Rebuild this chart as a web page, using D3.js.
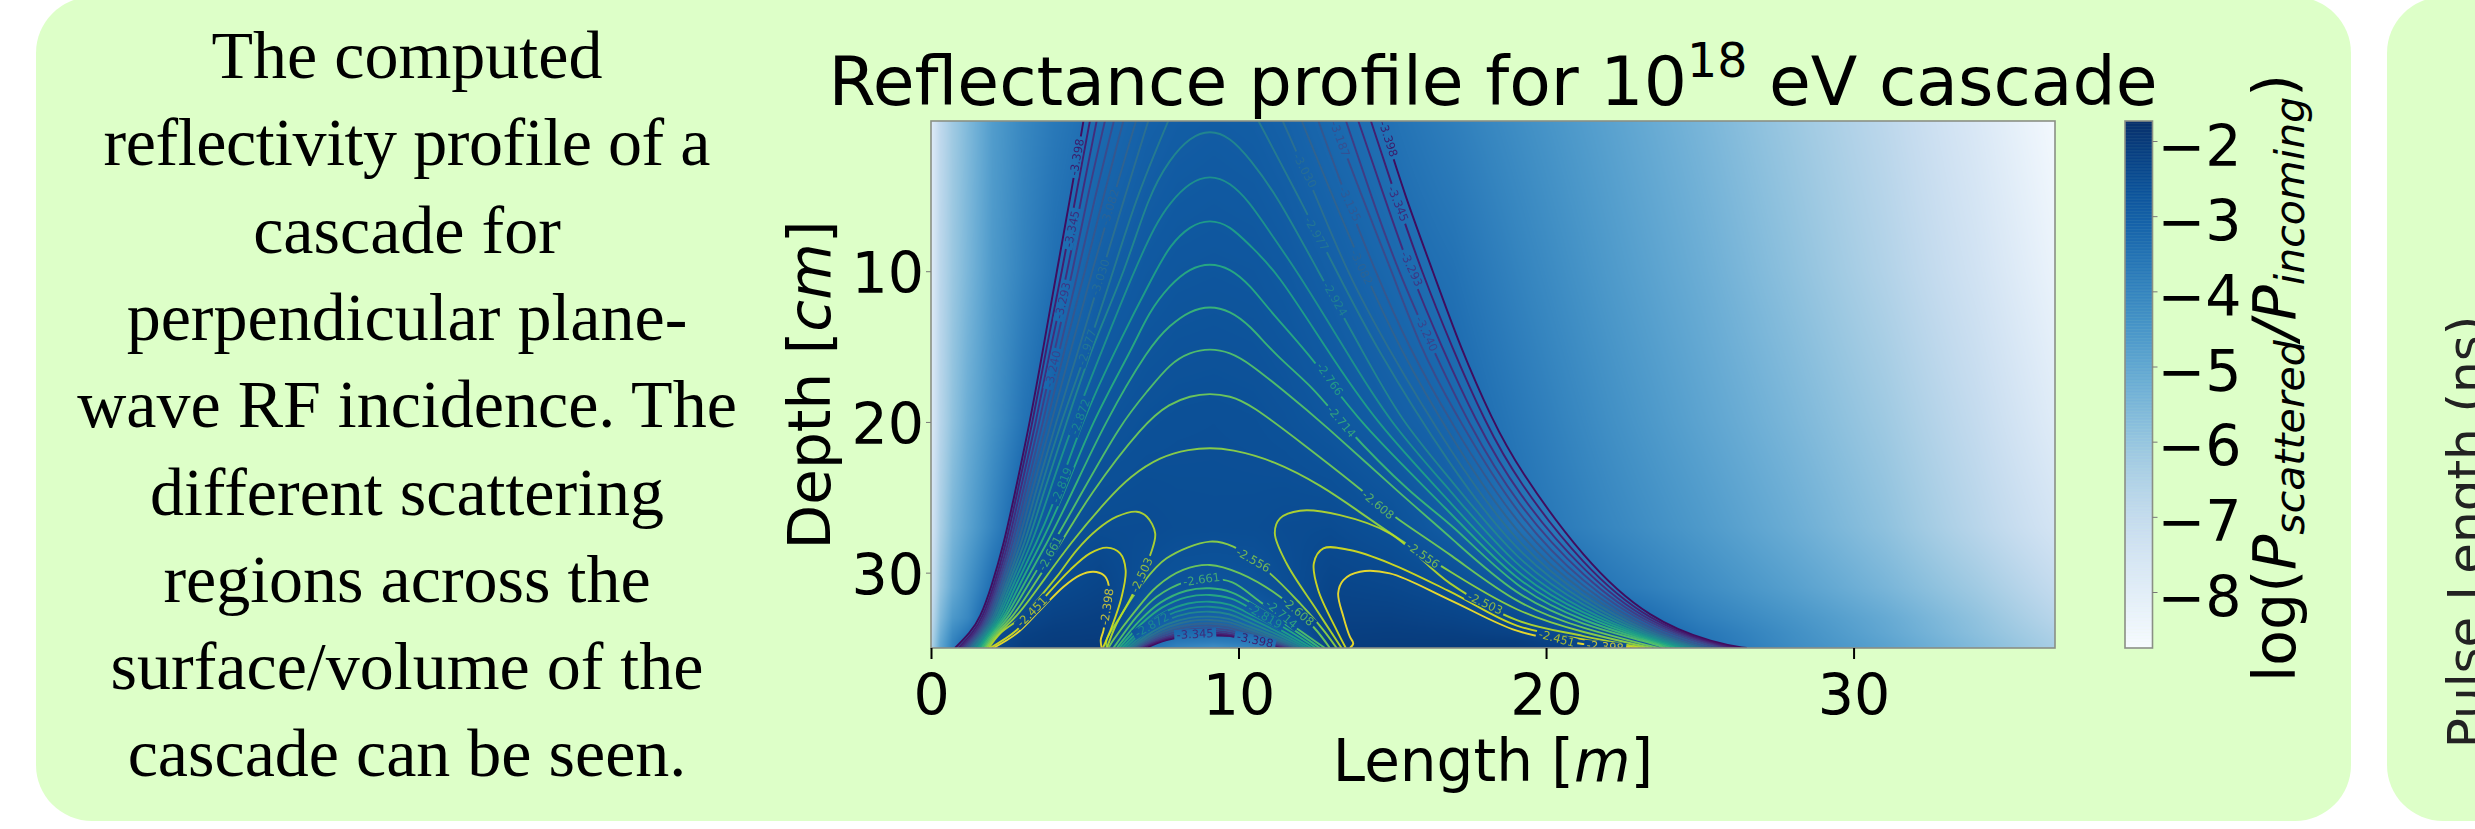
<!DOCTYPE html>
<html lang="en">
<head>
  <meta charset="UTF-8">
  <script src="https://d3js.org/d3.v7.min.js"></script>
  <title>Reflectance profile</title>
  <style>
    html, body { margin: 0; padding: 0; background: #fff; }
    svg { display: block; }
    text { font-family: "DejaVu Sans", sans-serif; fill: #000; }
    .blurb { font-family: "Liberation Serif", serif; font-size: 68px; text-anchor: middle; font-feature-settings: "liga" 1; text-rendering: optimizeLegibility; }
    .tick { font-size: 57px; }
    .axis-label { font-size: 58px; text-anchor: middle; }
    .contour { fill: none; stroke-width: 1.9px; stroke-opacity: 0.9; }
    .clabel { font-size: 11.5px; text-anchor: middle; dominant-baseline: central; opacity: 0.75; }
    .soft { filter: blur(0.5px); }
  </style>
</head>
<body>
  <svg width="2475" height="829"></svg>

  <script>
    const width = 2475, height = 829;

    const blurbLines = [
      "The computed", "reflectivity profile of a", "cascade for", "perpendicular plane-",
      "wave RF incidence. The", "different scattering", "regions across the",
      "surface/volume of the", "cascade can be seen."
    ];

    const xTicks = [0, 10, 20, 30];
    const yTicks = [10, 20, 30];
    const colorTicks = [-2, -3, -4, -5, -6, -7, -8];

    // log10(P_scattered/P_incoming) at these lengths (m) and depths (cm)
    const gridLengths = [0, 0.3, 0.7, 1.2, 2, 3, 4, 5.5, 7, 8, 9.2, 10.5, 11.5, 13, 15, 17, 19, 22, 25, 28, 31, 34, 36.55];
    const gridDepths = [0, 10, 20, 27, 31, 33, 34, 34.6, 35];
    const gridValues = [
      [-7.9, -6.9, -6.2, -5.6, -4.7, -4.1, -3.7, -3.3, -3.05, -2.96, -2.92, -2.96, -3.05, -3.25, -3.5, -3.85, -4.25, -4.85, -5.45, -6.1, -6.8, -7.7, -8.6],
      [-7.9, -6.8, -6.1, -5.5, -4.6, -3.95, -3.45, -3.0, -2.83, -2.77, -2.75, -2.77, -2.84, -3.0, -3.25, -3.5, -3.95, -4.6, -5.2, -5.85, -6.55, -7.4, -8.3],
      [-7.8, -6.7, -5.9, -5.2, -4.4, -3.55, -3.0, -2.72, -2.62, -2.59, -2.58, -2.6, -2.65, -2.77, -2.97, -3.2, -3.65, -4.3, -4.9, -5.5, -6.15, -7.0, -7.9],
      [-7.6, -6.4, -5.5, -4.9, -4.0, -2.95, -2.65, -2.5, -2.49, -2.53, -2.54, -2.53, -2.49, -2.47, -2.62, -2.95, -3.45, -4.05, -4.6, -5.2, -5.85, -6.7, -7.5],
      [-7.3, -6.0, -5.1, -4.4, -3.35, -2.65, -2.42, -2.28, -2.6, -2.68, -2.7, -2.68, -2.55, -2.3, -2.36, -2.5, -2.78, -3.6, -4.2, -4.8, -5.45, -6.2, -7.0],
      [-7.0, -5.6, -4.6, -4.1, -2.8, -2.35, -2.22, -2.15, -2.85, -3.0, -3.08, -3.0, -2.7, -2.2, -2.2, -2.28, -2.42, -3.0, -3.85, -4.45, -5.1, -5.9, -6.7],
      [-6.8, -5.3, -4.2, -3.6, -2.55, -2.2, -2.12, -2.1, -2.95, -3.3, -3.38, -3.3, -2.9, -2.15, -2.12, -2.15, -2.25, -2.65, -3.6, -4.3, -5.0, -5.8, -6.5],
      [-6.7, -5.1, -4.0, -3.2, -2.45, -2.15, -2.08, -2.05, -3.3, -3.7, -3.85, -3.7, -3.3, -2.1, -2.08, -2.08, -2.1, -2.4, -3.5, -4.25, -4.9, -5.7, -6.4],
      [-6.6, -5.0, -3.9, -3.2, -2.4, -2.1, -2.05, -2.0, -3.4, -4.0, -4.3, -4.0, -3.4, -2.05, -2.03, -2.03, -2.05, -2.3, -3.4, -4.2, -4.85, -5.65, -6.35]
    ];

    // contour levels, one line per level over the shower body
    const outerLevels = [-3.398, -3.345, -3.293, -3.240, -3.187, -3.135, -3.082, -3.030, -2.977, -2.924, -2.872, -2.819, -2.766, -2.714, -2.661, -2.608, -2.556];
    // [length m, depth cm]; null where the line leaves through the top of the plot
    const outerLines = [
      [[0.78,35],[1.27,34],[1.6,33],[1.96,31],[2.38,28],[2.7,25],[3.22,20],[3.66,15],[4.09,10],[4.54,5],[4.96,0],null,[14.65,0],[15.41,5],[16.32,10],[17.2,15],[18.28,20],[19.05,22.92],[21.22,29.16],[23.38,33.15],[25.55,34.74],[26.53,35]],
      [[0.89,35],[1.36,34],[1.67,33],[2.03,31],[2.45,28],[2.77,25],[3.31,20],[3.76,15],[4.26,10],[4.71,5],[5.17,0],null,[14.3,0],[15.1,5],[15.95,10],[16.93,15],[18.01,20],[19.05,23.85],[21.22,29.61],[23.38,33.3],[25.55,34.78],[26.26,35]],
      [[0.97,35],[1.43,34],[1.74,33],[2.08,31],[2.53,28],[2.85,25],[3.42,20],[3.89,15],[4.44,10],[4.9,5],[5.39,0],null,[13.89,0],[14.73,5],[15.57,10],[16.6,15],[17.72,20],[19.05,24.74],[21.22,30],[23.38,33.46],[25.55,34.83],[26.04,35]],
      [[1.03,35],[1.49,34],[1.79,33],[2.14,31],[2.6,28],[2.94,25],[3.53,20],[4.04,15],[4.61,10],[5.09,5],[5.66,0],null,[13.49,0],[14.31,5],[15.19,10],[16.28,15],[17.44,20],[19.05,25.51],[21.22,30.38],[23.38,33.59],[25.55,34.87],[25.82,35]],
      [[1.1,35],[1.54,34],[1.85,33],[2.19,31],[2.68,28],[3.03,25],[3.65,20],[4.2,15],[4.79,10],[5.34,5],[5.95,0],null,[13.08,0],[14,5],[14.98,10],[15.9,15],[16.88,18.88],[19.05,26.29],[21.22,30.76],[23.38,33.72],[25.61,35]],
      [[1.16,35],[1.6,34],[1.9,33],[2.26,31],[2.77,28],[3.12,25],[3.78,20],[4.36,15],[5.01,10],[5.61,5],[6.26,0],null,[12.59,0],[13.48,5],[14.44,10],[15.52,15],[16.88,19.98],[19.05,26.95],[21.22,31.11],[23.38,33.85],[25.39,35]],
      [[1.23,35],[1.65,34],[1.96,33],[2.32,31],[2.86,28],[3.23,25],[3.92,20],[4.58,15],[5.23,10],[5.95,5],[6.67,0],null,[12.05,0],[13.05,5],[14.08,10],[15.2,15],[16.88,20.98],[19.05,27.61],[21.22,31.42],[23.38,33.96],[25.17,35]],
      [[1.29,35],[1.7,34],[2.03,33],[2.39,31],[2.96,28],[3.35,25],[4.07,20],[4.83,15],[5.57,10],[6.31,5],[7.07,0],null,[11.43,0],[12.52,5],[13.51,10],[14.82,15],[16.88,21.97],[19.05,28.17],[21.22,31.73],[23.38,34.07],[25.01,35]],
      [[1.36,35],[1.76,34],[2.09,33],[2.45,31],[3.07,28],[3.48,25],[4.22,20],[5.12,15],[5.93,10],[6.69,5],[7.72,0],null,[10.64,0],[11.94,5],[13.19,10],[14.44,15],[16.88,22.97],[19.05,28.72],[21.22,32.04],[23.38,34.16],[24.85,35]],
      [[1.42,35],[1.81,34],[2.16,33],[2.53,31],[3.18,28],[3.61,25],[4.41,20],[5.23,15],[6.31,10],[7.07,5],[7.77,2.54],[8.42,1.1],[9.07,0.62],[9.72,1.1],[10.37,2.54],[11.26,5],[12.59,10],[13.95,15],[15.3,20],[16.88,23.74],[19.05,29.27],[21.22,32.3],[23.38,34.25],[24.68,35]],
      [[1.49,35],[1.86,34],[2.22,33],[2.62,31],[3.3,28],[3.79,25],[4.63,20],[5.61,15],[6.6,10],[7.3,6.89],[7.77,5.45],[8.42,4.08],[9.07,3.62],[9.72,4.08],[10.37,5.45],[10.84,6.89],[11.91,10],[13.41,15],[14.89,20],[16.88,24.52],[19.05,29.78],[21.22,32.57],[23.38,34.34],[24.52,35]],
      [[1.55,35],[1.9,34],[2.3,33],[2.71,31],[3.44,28],[4.07,25],[4.9,20],[6.04,15],[7.3,10],[7.77,8.29],[8.42,6.98],[9.07,6.55],[9.72,6.98],[10.37,8.29],[11.24,10],[12.81,15],[14.44,20],[16.88,25.29],[19.05,30.27],[21.22,32.79],[23.38,34.43],[24.36,35]],
      [[1.61,35],[1.95,34],[2.38,33],[2.82,31],[3.6,28],[4.28,25],[5.23,20],[6.58,15],[7.07,12.76],[7.77,10.9],[8.42,9.8],[9.07,9.45],[9.72,9.8],[10.37,10.9],[11.07,12.76],[12.49,15.93],[13.89,20],[16.88,25.96],[19.05,30.71],[21.22,33.01],[23.38,34.5],[24.2,35]],
      [[1.66,35],[2,34],[2.45,33],[2.95,31],[3.79,28],[4.52,25],[5.66,20],[7.1,15],[7.77,13.58],[8.42,12.62],[9.07,12.3],[9.72,12.62],[10.37,13.58],[11.2,15.58],[12.49,17.81],[13.3,20],[15.7,25],[16.88,26.62],[19.05,31.15],[21.22,33.26],[23.38,34.56],[24.03,35]],
      [[1.72,35],[2.05,34],[2.54,33],[3.09,31],[4,28],[4.82,25],[6.2,20],[7.07,17.88],[7.77,16.13],[8.42,15.37],[9.07,15.12],[9.72,15.37],[10.37,16.13],[11.46,17.92],[12.7,20],[15.36,24.96],[16.88,27.61],[19.05,31.64],[21.22,33.5],[23.38,34.63],[23.87,35]],
      [[1.77,35],[2.11,34],[2.65,33],[3.28,31],[4.25,28],[5.09,25],[6.96,20],[7.77,18.79],[8.42,18.27],[9.07,18.1],[9.72,18.27],[10.37,18.79],[12.21,21.64],[13.95,24.41],[15.09,26.4],[16.88,28.72],[19.05,32.15],[21.22,33.74],[23.66,35]],
      [[1.82,35],[2.17,34],[2.77,33],[3.49,31],[4.54,28],[5.8,25],[6.47,23.63],[7.45,22.3],[8.42,21.8],[9.07,21.72],[9.72,21.8],[11.13,22.53],[12.76,24.3],[13.84,25.84],[15.25,27.84],[16.88,29.94],[19.05,32.66],[21.22,33.99],[23.44,35]]
    ];

    // nested arches over the bright spot at the bottom, same levels as outerLevels
    const domeLines = [
      [[7,35],[7.66,34.47],[8.97,34.18],[10.05,34.25],[11.02,34.69],[11.46,35]],
      [[6.86,35],[7.39,34.59],[7.9,34.31],[8.52,34.13],[9.07,34.09],[9.56,34.15],[10.14,34.38],[10.77,34.65],[11.5,35]],
      [[6.82,35],[7.36,34.54],[7.88,34.22],[8.51,34.02],[9.07,33.98],[9.57,34.05],[10.17,34.31],[10.81,34.61],[11.56,35]],
      [[6.78,35],[7.33,34.48],[7.86,34.13],[8.5,33.9],[9.07,33.85],[9.58,33.93],[10.2,34.22],[10.86,34.56],[11.63,35]],
      [[6.72,35],[7.28,34.42],[7.82,34.01],[8.48,33.75],[9.07,33.7],[9.6,33.79],[10.23,34.12],[10.91,34.51],[11.7,35]],
      [[6.67,35],[7.25,34.33],[7.8,33.88],[8.47,33.58],[9.07,33.52],[9.61,33.62],[10.26,33.99],[10.97,34.44],[11.78,35]],
      [[6.61,35],[7.2,34.26],[7.77,33.75],[8.46,33.43],[9.07,33.36],[9.63,33.47],[10.3,33.88],[11.02,34.38],[11.86,35]],
      [[6.55,35],[7.15,34.16],[7.73,33.59],[8.44,33.21],[9.07,33.14],[9.65,33.27],[10.33,33.74],[11.08,34.29],[11.94,35]],
      [[6.47,35],[7.09,34.06],[7.69,33.42],[8.42,33],[9.07,32.92],[9.67,33.07],[10.38,33.59],[11.16,34.21],[12.05,35]],
      [[6.39,35],[7.03,33.92],[7.65,33.17],[8.4,32.69],[9.07,32.59],[9.69,32.76],[10.43,33.36],[11.23,34.08],[12.16,35]],
      [[6.3,35],[6.96,33.77],[7.6,32.92],[8.38,32.37],[9.07,32.26],[9.71,32.45],[10.48,33.14],[11.31,33.96],[12.27,35]],
      [[6.21,35],[6.9,33.62],[7.55,32.67],[8.36,32.05],[9.07,31.93],[9.73,32.14],[10.53,32.91],[11.39,33.83],[12.39,35]],
      [[6.12,35],[6.83,33.42],[7.51,32.32],[8.33,31.62],[9.07,31.48],[9.76,31.73],[10.59,32.61],[11.49,33.66],[12.52,35]],
      [[6.04,35],[6.77,33.22],[7.46,31.99],[8.31,31.2],[9.07,31.04],[9.79,31.32],[10.65,32.31],[11.58,33.5],[12.65,35]],
      [[5.93,35],[6.04,34.69],[6.69,32.92],[7.34,31.6],[8.3,30.6],[9.07,30.38],[9.8,30.65],[10.7,31.93],[11.67,33.37],[12.81,35]],
      [[5.77,35],[5.93,34.47],[6.58,32.7],[7.34,30.93],[8.2,29.82],[9.07,29.49],[10.05,30.05],[11.35,31.6],[12.43,33.59],[12.97,35]],
      [[5.72,35],[5.71,34.47],[6.15,32.92],[6.8,30.93],[7.66,29.05],[9.07,27.94],[9.83,28.27],[11.02,30.05],[12,32.04],[12.76,33.81],[13.19,35]]
    ];

    // the hooked lobes either side of the bright spot
    const lobeLevels = [-2.503, -2.451, -2.398];
    const leftLobes = [
      [[1.88,35],[2.27,34],[2.92,33],[3.55,31.6],[4.09,30.27],[4.74,28.5],[5.39,27.17],[6.04,26.29],[6.69,25.96],[7.02,26.29],[7.29,27.39],[7.16,28.65],[6.56,31.42],[5.99,33.59],[5.72,35]],
      [[1.92,35],[2.79,33.81],[3.71,31.6],[4.52,29.83],[5.17,28.72],[5.72,28.34],[6.15,28.72],[6.33,29.83],[6.2,31.6],[5.88,33.59],[5.59,35]],
      [[2.03,35],[2.79,34.03],[3.55,32.48],[4.31,30.93],[4.85,30.16],[5.28,29.94],[5.61,30.16],[5.77,30.76],[5.61,33.81],[5.52,34.47],[5.55,35]]
    ];
    const rightLobes = [
      [[13.35,35],[12.54,32.48],[11.56,29.38],[11.18,27.39],[11.35,26.4],[12,25.89],[13.3,26.18],[14.92,27.39],[16.88,30.71],[19.05,33.15],[21.22,34.21],[23.22,35]],
      [[13.49,35],[13.19,33.81],[12.59,31.15],[12.45,29.38],[12.76,28.39],[13.62,28.5],[14.92,29.38],[16.88,31.26],[19.05,33.52],[21.22,34.43],[23,35]],
      [[13.62,35],[13.73,34.69],[13.62,34.25],[13.41,32.92],[13.24,31.38],[13.41,30.49],[13.95,29.94],[14.92,30.05],[16.88,31.82],[19.05,33.85],[21.22,34.74],[22.73,35]]
    ];

    // inline labels: level, length, depth, text angle
    const contourLabels = [
      [-3.398,4.74,2.43,-80],[-3.345,4.58,7.19,-78],[-3.293,4.28,11.95,-77],[-3.240,3.96,16.48,-77],
      [-3.082,5.82,5.75,-73],[-3.030,5.5,10.4,-72],[-2.977,5.07,15.04,-72],[-2.872,4.85,19.65,-70],
      [-2.819,4.25,24.19,-68],[-2.661,3.87,28.72,-62],[-2.451,3.28,32.59,-45],[-2.503,6.85,30.16,-65],[-2.398,5.72,32.26,-82],
      [-3.398,14.87,1.22,72],[-3.187,13.3,1.22,70],[-3.030,12.16,3.32,62],[-3.135,13.62,5.53,65],[-2.977,12.54,7.52,60],
      [-3.345,15.19,5.53,68],[-3.082,14,9.73,65],[-2.924,13.14,11.84,60],[-3.293,15.63,9.85,65],[-3.240,16.12,14.16,65],
      [-2.766,12.97,17.15,55],[-2.714,13.35,19.98,50],[-2.608,14.54,25.51,40],[-2.556,16,28.83,35],[-2.503,18.02,32.04,25],
      [-2.451,20.35,34.36,15],[-2.398,21.92,34.9,5],[-2.556,10.48,29.16,30],[-2.661,8.8,30.45,-8],[-2.608,11.94,32.59,40],
      [-2.714,11.4,32.75,40],[-2.819,10.86,32.9,30],[-3.345,8.59,34.07,-3],[-3.398,10.54,34.47,12],[-2.872,7.18,33.47,-30]
    ];

    const svg = d3.select("svg");

    const x = d3.scaleLinear().domain([0, 36.55]).range([931, 2055]);
    const y = d3.scaleLinear().domain([0, 35]).range([120.5, 648]);
    const colorY = d3.scaleLinear().domain([-2, -8]).range([141, 592]);
    const colorDomain = [-8.75, -1.74];
    const blues = d3.scaleSequential(d3.interpolateBlues).domain(colorDomain);
    const viridis = d3.scaleSequential(d3.interpolateViridis).domain([-3.398, -2.398]);

    // panels
    svg.append("rect").attr("x", 36).attr("y", -3).attr("width", 2315).attr("height", 824)
      .attr("rx", 56).attr("fill", "#ddffc8");
    svg.append("rect").attr("x", 2387).attr("y", -3).attr("width", 300).attr("height", 824)
      .attr("rx", 56).attr("fill", "#ddffc8");

    svg.selectAll("text.blurb").data(blurbLines).enter().append("text")
      .attr("class", "blurb").attr("x", 407)
      .attr("y", (d, i) => 78 + i * 87.3)
      .text(d => d)
      .filter((d, i) => i === 1).attr("textLength", 607);

    // heat map drawn into a canvas, then placed as an image
    const plotW = 1124, plotH = 527;
    const canvas = document.createElement("canvas");
    canvas.width = plotW; canvas.height = plotH;
    const ctx = canvas.getContext("2d");
    const img = ctx.createImageData(plotW, plotH);
    const lut = d3.range(1024).map(i => d3.rgb(blues(colorDomain[0] + (colorDomain[1] - colorDomain[0]) * i / 1023)));
    const rowScales = gridValues.map(row => d3.scaleLinear().domain(gridLengths).range(row));
    for (let i = 0; i < plotW; i++) {
      const len = x.invert(931 + i + 0.5);
      const col = d3.scaleLinear().domain(gridDepths).range(rowScales.map(s => s(len))).clamp(true);
      for (let j = 0; j < plotH; j++) {
        const v = col(y.invert(121 + j + 0.5));
        const k = Math.max(0, Math.min(1023, Math.round((v - colorDomain[0]) / (colorDomain[1] - colorDomain[0]) * 1023)));
        const c = lut[k], p = (j * plotW + i) * 4;
        img.data[p] = c.r; img.data[p + 1] = c.g; img.data[p + 2] = c.b; img.data[p + 3] = 255;
      }
    }
    ctx.putImageData(img, 0, 0);
    svg.append("image").attr("x", 931).attr("y", 121).attr("width", plotW).attr("height", plotH)
      .attr("href", canvas.toDataURL());

    // clip + label gaps
    const defs = svg.append("defs");
    defs.append("clipPath").attr("id", "plot-clip").append("rect")
      .attr("x", 931).attr("y", 121).attr("width", plotW).attr("height", plotH);
    const mask = defs.append("mask").attr("id", "label-gaps").attr("maskUnits", "userSpaceOnUse")
      .attr("x", 0).attr("y", 0).attr("width", width).attr("height", height);
    mask.append("rect").attr("width", width).attr("height", height).attr("fill", "#fff");
    mask.selectAll("rect.gap").data(contourLabels).enter().append("rect")
      .attr("class", "gap").attr("x", -21).attr("y", -5).attr("width", 42).attr("height", 10).attr("fill", "#000")
      .attr("transform", d => `translate(${x(d[1])},${y(d[2])}) rotate(${d[3]})`);

    const line = d3.line()
      .defined(d => d !== null)
      .x(d => x(d[0]))
      .y(d => y(d[1]))
      .curve(d3.curveCatmullRom.alpha(0.5));
    // the long arches look kinked through catmull-rom, basis irons that out
    const smoothLine = d3.line()
      .defined(d => d !== null)
      .x(d => x(d[0]))
      .y(d => y(d[1]))
      .curve(d3.curveBasis);

    const contours = svg.append("g").attr("clip-path", "url(#plot-clip)").append("g")
      .attr("mask", "url(#label-gaps)").attr("class", "soft");
    function drawLines(levels, lines, gen) {
      contours.append("g").selectAll("path").data(lines).enter().append("path")
        .attr("class", "contour")
        .attr("stroke", (d, i) => viridis(levels[i]))
        .attr("d", gen);
    }
    drawLines(outerLevels, outerLines, smoothLine);
    drawLines(outerLevels, domeLines, line);
    drawLines(lobeLevels, leftLobes, line);
    drawLines(lobeLevels, rightLobes, line);

    svg.append("g").attr("clip-path", "url(#plot-clip)")
      .selectAll("text").data(contourLabels).enter().append("text")
      .attr("class", "clabel")
      .style("fill", d => viridis(d[0]))
      .attr("transform", d => `translate(${x(d[1])},${y(d[2])}) rotate(${d[3]})`)
      .text(d => d[0].toFixed(3));

    // plot frame
    svg.append("rect").attr("x", 931).attr("y", 121).attr("width", plotW).attr("height", plotH)
      .attr("fill", "none").attr("stroke", "#8a8f85").attr("stroke-width", 1.6);

    // axes
    const xAxisG = svg.append("g").attr("transform", "translate(0,648)")
      .call(d3.axisBottom(x).tickValues(xTicks).tickSize(11).tickPadding(16).tickFormat(d3.format("d")));
    xAxisG.select(".domain").remove();
    xAxisG.selectAll("line").attr("stroke", "#000").attr("stroke-width", 2);
    xAxisG.selectAll("text").attr("class", "tick").attr("font-family", null).attr("font-size", null);

    const yAxisG = svg.append("g").attr("transform", "translate(931,0)")
      .call(d3.axisLeft(y).tickValues(yTicks).tickSize(5).tickPadding(2).tickFormat(d3.format("d")));
    yAxisG.select(".domain").remove();
    yAxisG.selectAll("line").attr("stroke", "#777").attr("stroke-width", 1);
    yAxisG.selectAll("text").attr("class", "tick").attr("font-family", null).attr("font-size", null)
      .attr("dy", "21.5px");

    // title
    const title = svg.append("text").attr("x", 1493).attr("y", 105).attr("text-anchor", "middle").style("font-size", "68px");
    title.append("tspan").text("Reflectance profile for 10");
    title.append("tspan").attr("dy", -28).style("font-size", "47.5px").text("18");
    title.append("tspan").attr("dy", 28).text(" eV cascade");

    // axis labels
    const xLabel = svg.append("text").attr("class", "axis-label").attr("x", 1493).attr("y", 781);
    xLabel.append("tspan").text("Length [");
    xLabel.append("tspan").attr("font-style", "italic").text("m");
    xLabel.append("tspan").text("]");

    const yLabel = svg.append("text").attr("class", "axis-label").attr("transform", "translate(830,385) rotate(-90)");
    yLabel.append("tspan").text("Depth [");
    yLabel.append("tspan").attr("font-style", "italic").text("cm");
    yLabel.append("tspan").text("]");

    // colorbar
    const barSteps = d3.range(colorDomain[0], colorDomain[1], 0.01);
    const barY = d3.scaleLinear().domain([-1.74, -8.75]).range([121, 648]);
    svg.append("g").selectAll("rect").data(barSteps).enter().append("rect")
      .attr("x", 2125).attr("width", 27.5)
      .attr("y", d => barY(d + 0.01)).attr("height", d => barY(d) - barY(d + 0.01) + 0.5)
      .attr("fill", d => blues(d));
    svg.append("rect").attr("x", 2125).attr("y", 121).attr("width", 27.5).attr("height", plotH)
      .attr("fill", "none").attr("stroke", "#8a8f85").attr("stroke-width", 1.6);

    const colorAxisG = svg.append("g").attr("transform", "translate(2152.5,0)")
      .call(d3.axisRight(colorY).tickValues(colorTicks).tickSize(5).tickPadding(0).tickFormat(d => "\u2212" + Math.abs(d)));
    colorAxisG.select(".domain").remove();
    colorAxisG.selectAll("line").attr("stroke", "#777").attr("stroke-width", 1);
    colorAxisG.selectAll("text").attr("class", "tick").attr("font-family", null).attr("font-size", null)
      .attr("dy", "24px");

    const colorLabel = svg.append("text").attr("class", "axis-label").style("font-size", "58.5px")
      .attr("transform", "translate(2295,378) rotate(-90)");
    colorLabel.append("tspan").text("log(");
    colorLabel.append("tspan").attr("font-style", "italic").text("P");
    colorLabel.append("tspan").attr("font-style", "italic").attr("dy", 9).style("font-size", "41px").text("scattered");
    colorLabel.append("tspan").attr("font-style", "italic").attr("dy", -9).text("/P");
    colorLabel.append("tspan").attr("font-style", "italic").attr("dy", 9).style("font-size", "41px").text("incoming");
    colorLabel.append("tspan").attr("dy", -9).text(")");

    // cut-off y label of the neighbouring panel
    svg.append("text").attr("transform", "translate(2483,532) rotate(-90)")
      .attr("text-anchor", "middle").style("font-size", "50px").style("fill", "#222")
      .text("Pulse Length (ns)");
  </script>
</body>
</html>
